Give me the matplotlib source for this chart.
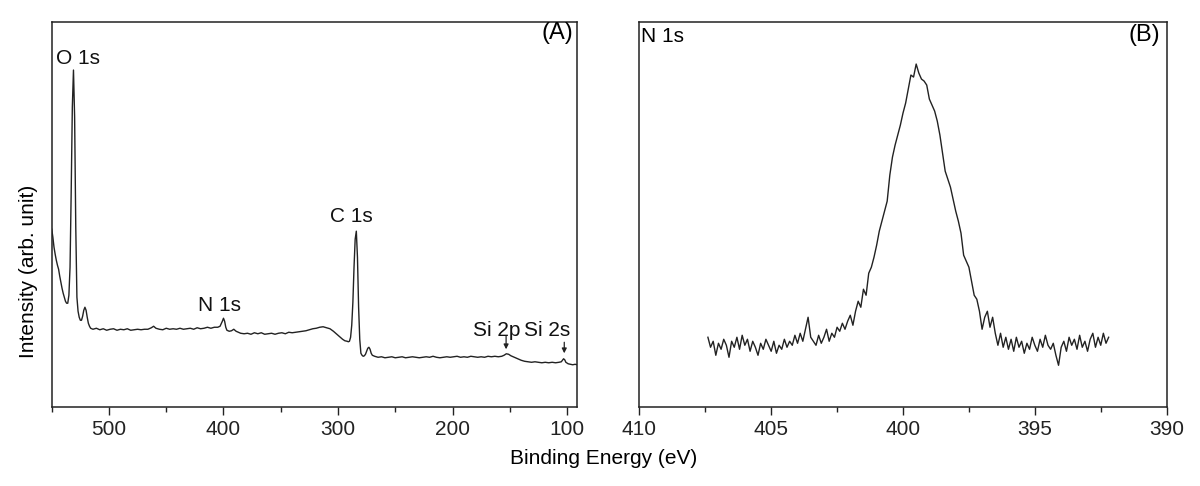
import numpy as np
import matplotlib
matplotlib.use("Agg")
import matplotlib.pyplot as plt
from matplotlib.ticker import MultipleLocator

plt.rcParams['font.family'] = ['Liberation Sans', 'DejaVu Sans']

# ---- (A) survey spectrum, binding energy (eV) vs intensity (arb.)
survey_be = [550, 549, 548, 547, 546, 545, 544, 543, 542, 541,
             540, 539, 538, 537, 536, 535, 534, 533, 532, 531,
             530, 529, 528, 527, 526, 525, 524, 523, 522, 521,
             520, 519, 518, 517, 516, 514, 511, 508, 505, 502,
             499, 496, 493, 490, 487, 484, 481, 478, 475, 472,
             469, 466, 463, 461, 459, 456, 453, 450, 447, 444,
             441, 438, 435, 432, 429, 426, 423, 420, 417, 414,
             411, 408, 405, 403, 401, 400, 399, 398, 397, 395,
             393, 391, 389, 387, 385, 382, 379, 376, 373, 370,
             367, 364, 361, 358, 355, 352, 349, 346, 343, 340,
             337, 334, 331, 328, 325, 322, 319, 316, 313, 310,
             307, 304, 301, 298, 296, 294, 292, 291, 290, 289,
             288, 287, 286, 285, 284, 283, 282, 281, 280, 279,
             278, 277, 276, 275, 274, 273, 272, 271, 270, 268,
             265, 262, 259, 256, 253, 250, 247, 244, 241, 238,
             235, 232, 229, 226, 223, 220, 217, 214, 211, 208,
             205, 202, 199, 196, 193, 190, 187, 184, 181, 178,
             175, 172, 169, 166, 163, 160, 157, 155, 153, 151,
             149, 146, 143, 140, 137, 134, 131, 128, 125, 122,
             119, 116, 113, 110, 107, 105, 104, 103, 102, 101,
             99, 97, 95, 93, 91]
survey_int = [178, 170, 160, 153, 147, 142, 138, 131, 125, 119,
              114, 110, 106, 104, 104, 112, 140, 215, 300, 337,
              290, 180, 110, 96, 90, 87, 87, 91, 97, 100,
              97, 90, 84, 81, 79, 78, 79, 77.5, 78.5, 77,
              78, 78.5, 77, 78, 77.5, 78.5, 77, 77.5, 78, 77.5,
              78, 78, 79.5, 81, 79, 78, 77.5, 79, 78, 78.5,
              78, 79, 78, 78.5, 79, 78, 79.5, 78.5, 79, 80,
              79, 80, 80, 81, 86, 89, 86, 80, 77, 76,
              76.5, 78, 76, 75, 74, 73.5, 74, 73, 74.5, 73.5,
              74.5, 73, 73.5, 74, 73, 74, 74.5, 73.5, 75, 74.5,
              75, 75.5, 76, 76.5, 77.5, 78.5, 79, 80, 80.5, 79.5,
              78.5, 76, 73, 70, 68, 66.5, 66, 65.5, 66, 70,
              82, 105, 140, 168, 176, 150, 100, 68, 54, 52,
              51, 51.5, 53, 56, 59, 60, 58, 54, 52, 51,
              50, 50.5, 49.5, 50, 50.5, 49.5, 50, 50.5, 49.5, 50,
              50.5, 50, 49.5, 50, 50.5, 50, 51, 50, 49.5, 50,
              50.5, 50, 50.5, 51, 50, 50.5, 50, 51, 50.5, 50,
              50.5, 50, 51, 50.5, 51, 50.5, 51, 52, 53.5, 53,
              51.5, 50, 48.5, 47, 46, 45.5, 45, 45.5, 45, 44.5,
              45, 44.5, 45, 44.5, 45, 45.5, 47, 48.5, 47.5, 45,
              43.5, 43, 42.5, 43, 42.5]

# ---- (B) N 1s high resolution, 0.1 eV steps from 407.4 down to 392.2
n1s_start, n1s_step = 407.4, -0.1
n1s_int = [70, 60, 66, 52, 64, 58, 68, 62, 50, 66,
           60, 70, 58, 72, 62, 68, 56, 66, 60, 52,
           64, 58, 68, 62, 56, 66, 54, 62, 58, 68,
           60, 66, 62, 72, 64, 74, 66, 78, 90, 70,
           66, 62, 72, 64, 70, 78, 66, 74, 70, 80,
           76, 84, 78, 86, 92, 82, 96, 106, 100, 118,
           112, 134, 140, 150, 162, 176, 186, 196, 206, 232,
           250, 262, 272, 282, 294, 304, 318, 332, 330, 343,
           334, 328, 326, 322, 308, 302, 296, 286, 272, 254,
           236, 228, 220, 208, 196, 186, 174, 152, 146, 140,
           126, 112, 108, 96, 78, 90, 96, 80, 90, 74,
           62, 74, 60, 70, 58, 68, 56, 70, 60, 66,
           54, 64, 58, 70, 62, 56, 68, 60, 72, 62,
           58, 64, 52, 42, 60, 66, 56, 70, 62, 68,
           58, 72, 60, 66, 56, 68, 74, 60, 70, 62,
           74, 64, 70]
n1s_be = np.round(n1s_start + n1s_step * np.arange(len(n1s_int)), 1)

peak_labels = ["O 1s", "N 1s", "C 1s", "Si 2p", "Si 2s"]
peak_label_be = [527, 403.2, 288.1, 161.3, 117.1]
peak_label_int = [349, 102, 191, 77, 77]

line_col = '#222222'
fs = 15

fig = plt.figure(figsize=(12, 4.86), dpi=100)
axA = fig.add_axes([0.0431, 0.1619, 0.4380, 0.7928])
axB = fig.add_axes([0.5328, 0.1619, 0.4394, 0.7928])

axA.plot(survey_be, survey_int, color=line_col, lw=1.0)
axA.set_xlim(550, 91)
axA.set_ylim(0, 385)
axA.xaxis.set_major_locator(MultipleLocator(100))
axA.xaxis.set_minor_locator(MultipleLocator(50))

for lab, xb, yi in zip(peak_labels, peak_label_be, peak_label_int):
    axA.text(xb, yi, lab, ha='center', va='center', fontsize=fs, color='#111111')

# small arrows for the Si peaks
axA.annotate('', xy=(153.2, 58), xytext=(153.2, 71),
             arrowprops=dict(arrowstyle='-|>', color=line_col, lw=0.9,
                             mutation_scale=7, shrinkA=0, shrinkB=0))
axA.annotate('', xy=(102.4, 54), xytext=(102.4, 65),
             arrowprops=dict(arrowstyle='-|>', color=line_col, lw=0.9,
                             mutation_scale=7, shrinkA=0, shrinkB=0))
axA.text(0.993, 0.972, "(A)", transform=axA.transAxes, ha='right', va='center',
         fontsize=17)

axB.plot(n1s_be, n1s_int, color=line_col, lw=1.0)
axB.set_xlim(410, 390)
axB.set_ylim(0, 385)
axB.xaxis.set_major_locator(MultipleLocator(5))
axB.xaxis.set_minor_locator(MultipleLocator(2.5))
axB.text(0.003, 0.962, "N 1s", transform=axB.transAxes, ha='left', va='center',
         fontsize=fs)
axB.text(0.988, 0.966, "(B)", transform=axB.transAxes, ha='right', va='center',
         fontsize=17)

for ax in (axA, axB):
    ax.set_yticks([])
    ax.tick_params(axis='x', which='major', direction='out', length=6, width=1,
                   labelsize=fs, pad=3, colors='#222222')
    ax.tick_params(axis='x', which='minor', direction='out', length=3.5, width=1,
                   colors='#222222')
    for sp in ax.spines.values():
        sp.set_linewidth(1.1)
        sp.set_color('#222222')

fig.text(0.0240, 0.4415, "Intensity (arb. unit)", rotation=90, ha='center',
         va='center', fontsize=fs)
fig.text(0.503, 0.0576, "Binding Energy (eV)", ha='center', va='center',
         fontsize=fs)

fig.savefig("out.png", dpi=100)
